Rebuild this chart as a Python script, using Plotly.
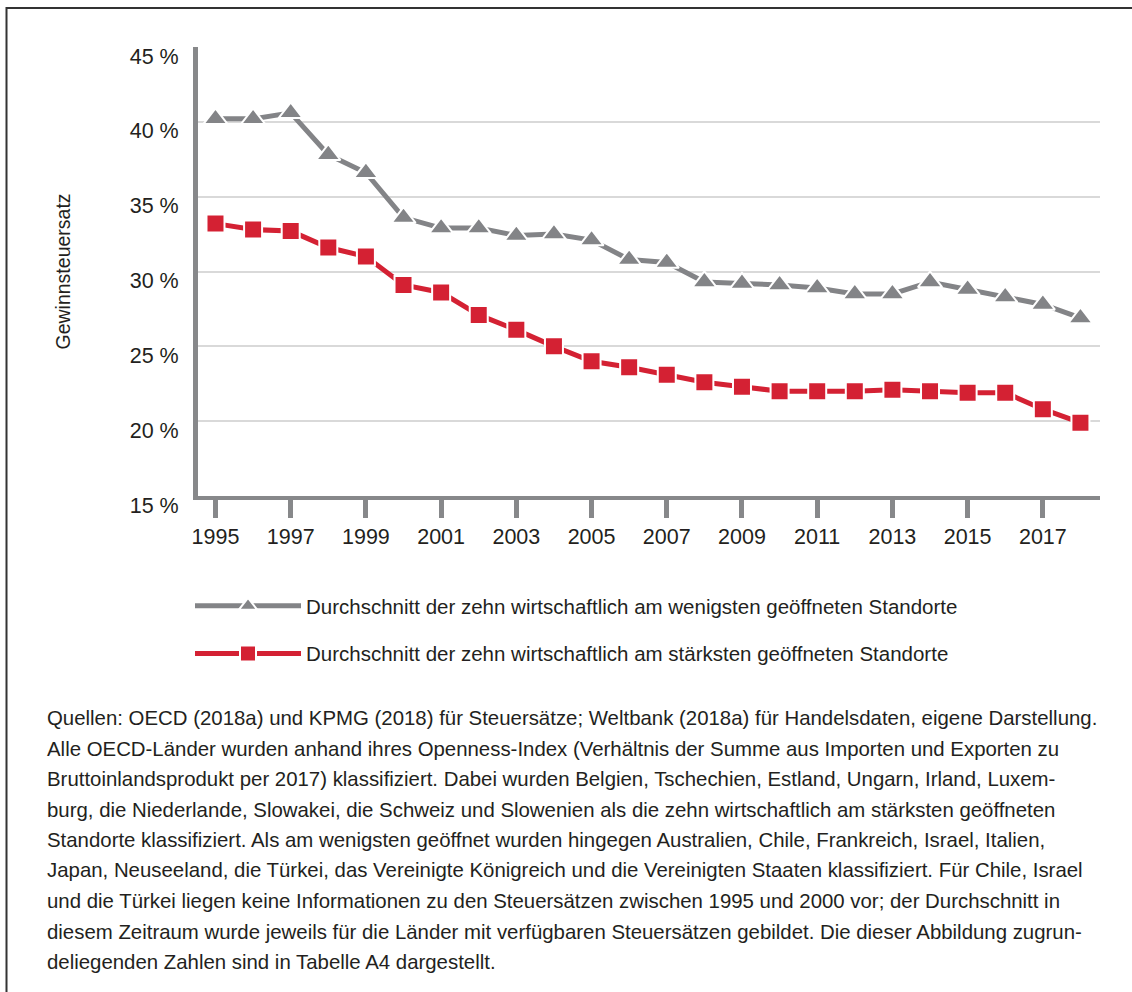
import plotly.graph_objects as go

# ---- data ----
years = list(range(1995, 2019))
least_open = [40.2, 40.2, 40.6, 37.8, 36.6, 33.6, 32.9, 32.9, 32.4, 32.5, 32.1, 30.8,
              30.6, 29.3, 29.2, 29.1, 28.9, 28.5, 28.5, 29.3, 28.8, 28.3, 27.8, 26.9]
most_open = [33.2, 32.8, 32.7, 31.6, 31.0, 29.1, 28.6, 27.1, 26.1, 25.0, 24.0, 23.6,
             23.1, 22.6, 22.3, 22.0, 22.0, 22.0, 22.1, 22.0, 21.9, 21.9, 20.8, 19.9]
name_least = "Durchschnitt der zehn wirtschaftlich am wenigsten geöffneten Standorte"
name_most = "Durchschnitt der zehn wirtschaftlich am stärksten geöffneten Standorte"
x_ticks = list(range(1995, 2018, 2))
y_ticks = [15, 20, 25, 30, 35, 40, 45]
y_ticktext = [f"{v} %" for v in y_ticks]
y_title = "Gewinnsteuersatz"
caption_lines = [
    "Quellen: OECD (2018a) und KPMG (2018) für Steuersätze; Weltbank (2018a) für Handelsdaten, eigene Darstellung.",
    "Alle OECD-Länder wurden anhand ihres Openness-Index (Verhältnis der Summe aus Importen und Exporten zu",
    "Bruttoinlandsprodukt per 2017) klassifiziert. Dabei wurden Belgien, Tschechien, Estland, Ungarn, Irland, Luxem-",
    "burg, die Niederlande, Slowakei, die Schweiz und Slowenien als die zehn wirtschaftlich am stärksten geöffneten",
    "Standorte klassifiziert. Als am wenigsten geöffnet wurden hingegen Australien, Chile, Frankreich, Israel, Italien,",
    "Japan, Neuseeland, die Türkei, das Vereinigte Königreich und die Vereinigten Staaten klassifiziert. Für Chile, Israel",
    "und die Türkei liegen keine Informationen zu den Steuersätzen zwischen 1995 und 2000 vor; der Durchschnitt in",
    "diesem Zeitraum wurde jeweils für die Länder mit verfügbaren Steuersätzen gebildet. Die dieser Abbildung zugrun-",
    "deliegenden Zahlen sind in Tabelle A4 dargestellt.",
]

GRAY = "#838487"
RED = "#d42133"
AXIS = "#87888a"
TEXT = "#231f20"
FONT = "Liberation Sans, Arial, sans-serif"

W, H = 1132, 992
L, R, T, B = 198, 32, 47, 496
PH = H - T - B
PW = W - L - R


def py(pix):
    return (H - B - pix) / PH


def px(pix):
    return (pix - L) / PW


fig = go.Figure()
fig.add_trace(go.Scatter(
    x=years, y=least_open, name=name_least, mode="lines+markers", legendgroup="a",
    line=dict(color=GRAY, width=5),
    marker=dict(symbol="triangle-up", size=21, color=GRAY, line=dict(color="white", width=2)),
))
fig.add_trace(go.Scatter(
    x=years, y=most_open, name=name_most, mode="lines+markers", legendgroup="b",
    line=dict(color=RED, width=5),
    marker=dict(symbol="square", size=18, color=RED, line=dict(color="white", width=2)),
))

annotations = []
for i, line in enumerate(caption_lines):
    annotations.append(dict(
        text=line, xref="paper", yref="paper", x=px(45), y=py(718 + i * 30.5),
        xanchor="left", yanchor="middle", showarrow=False,
        font=dict(family=FONT, size=20.4, color=TEXT),
    ))
annotations.append(dict(
    text=y_title, xref="paper", yref="paper", x=px(62), y=0.5, textangle=-90,
    xanchor="center", yanchor="middle", showarrow=False,
    font=dict(family=FONT, size=19.5, color=TEXT),
))

fig.update_layout(
    width=W, height=H,
    margin=dict(l=L, r=R, t=T, b=B, autoexpand=False),
    paper_bgcolor="white", plot_bgcolor="white",
    font=dict(family=FONT, color=TEXT),
    showlegend=True,
    legend=dict(
        x=px(190), y=py(586), xanchor="left", yanchor="top",
        itemwidth=106, tracegroupgap=18, traceorder="grouped",
        font=dict(family=FONT, size=20.5, color=TEXT),
        bgcolor="rgba(0,0,0,0)",
    ),
    annotations=annotations,
    shapes=[dict(type="rect", xref="paper", yref="paper",
                 x0=px(6.5), x1=px(1150), y0=py(1010), y1=py(8),
                 line=dict(color="#333333", width=2), layer="below")],
    xaxis=dict(
        range=[1994.535, 2018.52], tickvals=x_ticks, ticktext=[str(v) for v in x_ticks],
        showgrid=False, zeroline=False,
        showline=True, linecolor=AXIS, linewidth=4,
        ticks="outside", ticklen=18, tickwidth=5, tickcolor=AXIS,
        ticklabelstandoff=0,
        tickfont=dict(family=FONT, size=21.5, color=TEXT),
    ),
    yaxis=dict(
        range=[15, 45], tickvals=y_ticks, ticktext=y_ticktext,
        showgrid=True, gridcolor="#d9d9d9", gridwidth=2, zeroline=False,
        showline=True, linecolor=AXIS, linewidth=5,
        ticks="", ticklabelstandoff=10, ticklabelshift=9,
        tickfont=dict(family=FONT, size=21.5, color=TEXT),
    ),
)

fig.write_html("out.html", config={"displayModeBar": False},
               post_script="document.body.style.margin='0';")
